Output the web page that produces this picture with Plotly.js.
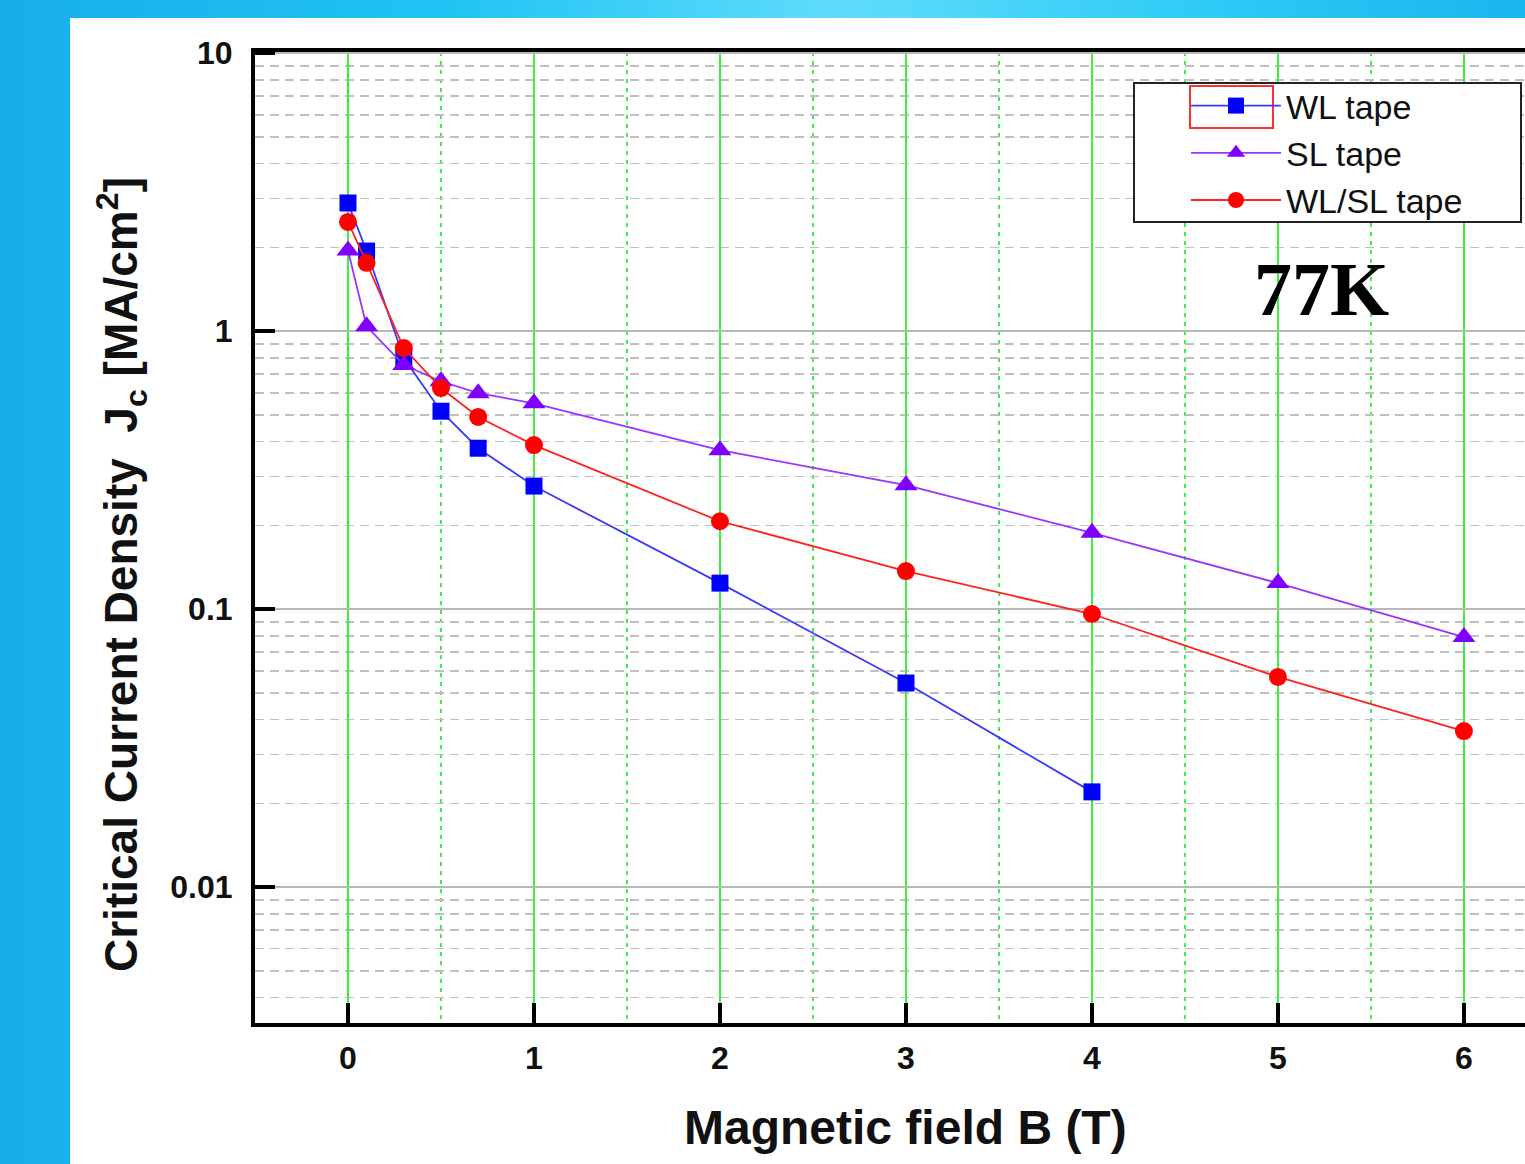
<!DOCTYPE html>
<html>
<head>
<meta charset="utf-8">
<script src="https://cdn.plot.ly/plotly-3.0.1.min.js"></script>
<style>
  html, body { margin: 0; padding: 0; width: 1525px; height: 1164px; overflow: hidden; }
  body {
    background: linear-gradient(to right, #16aeea 0%, #22c4f4 30%, #5fdcfb 55%, #2ccaf6 80%, #18b6ee 100%);
  }
  #chart { position: absolute; left: 70px; top: 18px; width: 1480px; height: 1146px; background: #fff; }
</style>
</head>
<body>
<div id="chart"></div>
<script>
// Magnetic field B (T)
const fieldWL   = [0, 0.1, 0.3, 0.5, 0.7, 1, 2, 3, 4];
const jcWL      = [2.89, 1.94, 0.80, 0.515, 0.379, 0.277, 0.124, 0.0542, 0.022];

const fieldSL   = [0, 0.1, 0.3, 0.5, 0.7, 1, 2, 3, 4, 5, 6];
const jcSL      = [1.95, 1.04, 0.755, 0.66, 0.598, 0.55, 0.373, 0.279, 0.188, 0.124, 0.0793];

const fieldWLSL = [0, 0.1, 0.3, 0.5, 0.7, 1, 2, 3, 4, 5, 6];
const jcWLSL    = [2.47, 1.76, 0.869, 0.624, 0.491, 0.389, 0.207, 0.137, 0.096, 0.057, 0.0364];

const seriesNames = ["WL tape", "SL tape", "WL/SL tape"];
const xTickVals = [0, 1, 2, 3, 4, 5, 6];
const yTickVals = [0.01, 0.1, 1, 10];
const yTickText = ["0.01", "0.1", "1", "10"];
const xTitle = "Magnetic field B (T)";
const yTitle = "Critical Current Density&nbsp;&nbsp;J<sub>c</sub> [MA/cm<sup>2</sup>]";
const tempLabel = "77K";

// minor log grid positions (2..9 per decade)
const yMinor = [];
for (let d = -3; d <= 1; d++) for (let k = 2; k <= 9; k++) yMinor.push(k * Math.pow(10, d));

const font = "Liberation Sans, Arial, sans-serif";

// plot-area pixel geometry (relative to the chart div) used to place paper-ref items
const PL = 185, PT = 34, PW = 1285, PH = 971, DIVX = 70, DIVY = 18;
const px = X => (X - DIVX - PL) / PW;
const py = Y => 1 - (Y - DIVY - PT) / PH;

const traces = [
  { x: fieldWL, y: jcWL, name: seriesNames[0], mode: "lines+markers", type: "scatter",
    line: { color: "#3a3aff", width: 1.8 },
    marker: { symbol: "square", size: 17, color: "#0000ff" } },
  { x: fieldSL, y: jcSL, name: seriesNames[1], mode: "lines+markers", type: "scatter",
    line: { color: "#9933ff", width: 1.8 },
    marker: { symbol: "triangle-up", size: 20, color: "#8000ff" } },
  { x: fieldWLSL, y: jcWLSL, name: seriesNames[2], mode: "lines+markers", type: "scatter",
    line: { color: "#ff2020", width: 1.8 },
    marker: { symbol: "circle", size: 18, color: "#ff0000" } }
];

const layout = {
  width: 1480, height: 1146,
  margin: { l: PL, r: 10, t: PT, b: 141 },
  paper_bgcolor: "#ffffff", plot_bgcolor: "#ffffff",
  showlegend: true,
  legend: {
    x: px(1186), y: py(77), xanchor: "left", yanchor: "top",
    bgcolor: "rgba(0,0,0,0)", borderwidth: 0,
    font: { family: font, size: 34, color: "#111" },
    itemwidth: 90, tracegroupgap: 0
  },
  xaxis: {
    range: [-0.5, 6.409], tickmode: "array", tickvals: xTickVals,
    ticks: "inside", ticklen: 20, tickwidth: 4, tickcolor: "#000",
    showline: true, linewidth: 4, linecolor: "#000", mirror: true,
    showgrid: true, gridcolor: "#3ef03e", gridwidth: 2,
    zeroline: false,
    minor: { dtick: 0.5, tick0: 0.5, ticks: "", showgrid: true, gridcolor: "#3ef03e", gridwidth: 2, griddash: "4px,5px" },
    tickfont: { family: font, size: 32, color: "#111", weight: "bold" },
    ticklabelstandoff: 4
  },
  yaxis: {
    type: "log", range: [-2.489, 1.004],
    tickmode: "array", tickvals: yTickVals, ticktext: yTickText,
    ticks: "inside", ticklen: 20, tickwidth: 4, tickcolor: "#000",
    showline: true, linewidth: 4, linecolor: "#000", mirror: true,
    showgrid: true, gridcolor: "#b8b8b8", gridwidth: 1.5,
    zeroline: false,
    minor: { tickmode: "array", tickvals: yMinor, ticks: "", showgrid: true, gridcolor: "#c0c0c0", gridwidth: 1.5, griddash: "9px,6px" },
    tickfont: { family: font, size: 32, color: "#111", weight: "bold" },
    ticklabelstandoff: 12
  },
  annotations: [
    { xref: "paper", yref: "paper", x: px(905), y: py(1127), xanchor: "center", yanchor: "middle",
      text: xTitle, showarrow: false,
      font: { family: font, size: 48, color: "#111", weight: "bold" } },
    { xref: "paper", yref: "paper", x: px(121), y: py(575), xanchor: "center", yanchor: "middle",
      text: yTitle, showarrow: false, textangle: -90,
      font: { family: font, size: 46, color: "#111", weight: "bold" } },
    { xref: "paper", yref: "paper", x: px(1321), y: py(289), xanchor: "center", yanchor: "middle",
      text: tempLabel, showarrow: false,
      font: { family: "Liberation Serif, Times New Roman, serif", size: 76, color: "#000", weight: "bold" } }
  ],
  shapes: [
    { type: "rect", xref: "paper", yref: "paper",
      x0: px(1134), x1: px(1521), y0: py(222), y1: py(83),
      line: { color: "#222222", width: 2 }, fillcolor: "#ffffff", layer: "above" },
    { type: "rect", xref: "paper", yref: "paper",
      x0: px(1190), x1: px(1273), y0: py(128), y1: py(86),
      line: { color: "#ff3030", width: 2 }, fillcolor: "rgba(0,0,0,0)", layer: "above" }
  ]
};

Plotly.newPlot("chart", traces, layout, { displayModeBar: false, staticPlot: true });
</script>
</body>
</html>
